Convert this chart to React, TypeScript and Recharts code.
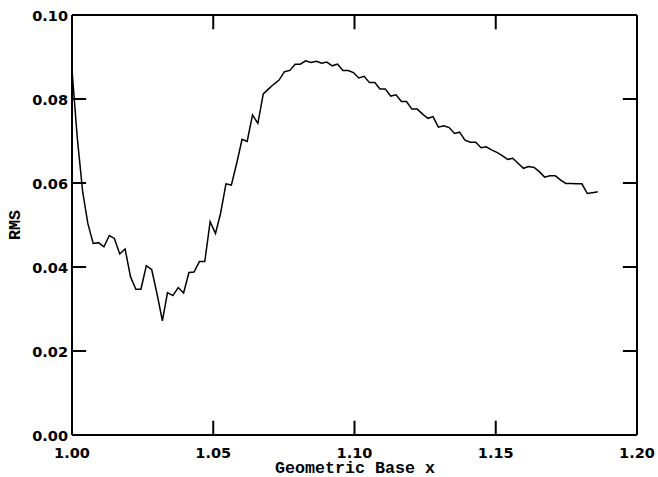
import { Line, LineChart, ReferenceLine, XAxis, YAxis } from "recharts";

// geometric base (x) sampled along the run
const baseX = [
  1.0, 1.0019, 1.0038, 1.0056, 1.0075, 1.0094, 1.0113, 1.0132, 1.015, 1.0169,
  1.0188, 1.0207, 1.0226, 1.0244, 1.0263, 1.0282, 1.0301, 1.032, 1.0338, 1.0357,
  1.0376, 1.0395, 1.0414, 1.0432, 1.0451, 1.047, 1.0489, 1.0508, 1.0526, 1.0545,
  1.0564, 1.0583, 1.0602, 1.062, 1.0639, 1.0658, 1.0677, 1.0696, 1.0714, 1.0733,
  1.0752, 1.0771, 1.079, 1.0808, 1.0827, 1.0846, 1.0865, 1.0884, 1.0902, 1.0921,
  1.094, 1.0959, 1.0978, 1.0996, 1.1015, 1.1034, 1.1053, 1.1072, 1.109, 1.1109,
  1.1128, 1.1147, 1.1166, 1.1184, 1.1203, 1.1222, 1.1241, 1.126, 1.1278, 1.1297,
  1.1316, 1.1335, 1.1354, 1.1372, 1.1391, 1.141, 1.1429, 1.1448, 1.1466, 1.1485,
  1.1504, 1.1523, 1.1542, 1.156, 1.1579, 1.1598, 1.1617, 1.1636, 1.1654, 1.1673,
  1.1692, 1.1711, 1.173, 1.1748, 1.1767, 1.1786, 1.1805, 1.1824, 1.1842, 1.1861,
];

const rms = [
  0.0869, 0.0705, 0.0578, 0.0504, 0.0456, 0.0458, 0.0448, 0.0475, 0.0468, 0.0431,
  0.0443, 0.0377, 0.0347, 0.0347, 0.0403, 0.0394, 0.0336, 0.0272, 0.0339, 0.0332,
  0.0351, 0.0338, 0.0387, 0.0388, 0.0413, 0.0413, 0.0508, 0.048, 0.0528, 0.0598,
  0.0595, 0.0647, 0.0704, 0.0699, 0.0762, 0.0742, 0.0812, 0.0824, 0.0835, 0.0845,
  0.0865, 0.0868, 0.0883, 0.0883, 0.0891, 0.0887, 0.089, 0.0885, 0.0888, 0.0879,
  0.0883, 0.0868, 0.0868, 0.0863, 0.085, 0.0854, 0.0839, 0.0839, 0.0824, 0.0824,
  0.0807, 0.081, 0.0794, 0.0794, 0.0776, 0.0776, 0.0764, 0.0754, 0.0758, 0.0733,
  0.0736, 0.0732, 0.0718, 0.0721, 0.0702, 0.0697, 0.0697, 0.0684, 0.0686, 0.0679,
  0.0673, 0.0665, 0.0656, 0.0659, 0.0647, 0.0635, 0.0639, 0.0637, 0.0627, 0.0614,
  0.0617, 0.0617, 0.0607, 0.0599, 0.0599, 0.0598, 0.0598, 0.0575, 0.0577, 0.0579,
];

const xTicks = [1.0, 1.05, 1.1, 1.15, 1.2];
const yTicks = [0.0, 0.02, 0.04, 0.06, 0.08, 0.1];

const data = baseX.map((x, i) => ({ x, rms: rms[i] }));

const X_MIN = 1.0;
const X_MAX = 1.2;
const Y_MIN = 0;
const Y_MAX = 0.1;
// inward tick length (~14px) expressed in data units of the other axis
const X_TICK_LEN = 0.0034; // in y units, for x ticks
const Y_TICK_LEN = 0.005; // in x units, for y ticks

const frame = { stroke: "#000", strokeWidth: 2 };
const tickFont = { fontFamily: "DejaVu Sans", fontWeight: 700, fontSize: 14.5 };
const titleFont = { fontFamily: "Liberation Mono", fontWeight: 700, fontSize: 16.7 };

function BottomLabel({ x, y, payload }: any) {
  return (
    <text x={x} y={y + 22.5} textAnchor="middle" fill="#000" {...tickFont}>
      {payload.value.toFixed(2)}
    </text>
  );
}

function LeftLabel({ x, y, payload }: any) {
  return (
    <text x={x - 4} y={y + 5.5} textAnchor="end" fill="#000" {...tickFont}>
      {payload.value.toFixed(2)}
    </text>
  );
}

export default function App() {
  return (
    <div style={{ position: "absolute", left: 0, top: 0, background: "#fff" }}>
      <LineChart
        width={658}
        height={477}
        data={data}
        margin={{ top: 14, right: 20, bottom: 0, left: 0 }}
      >
        <XAxis
          xAxisId="b"
          dataKey="x"
          type="number"
          domain={[X_MIN, X_MAX]}
          ticks={xTicks}
          interval={0}
          height={42}
          tickSize={0}
          tickMargin={0}
          tickLine={false}
          axisLine={frame}
          tick={BottomLabel}
          allowDataOverflow
        />
        <XAxis
          xAxisId="t"
          orientation="top"
          type="number"
          domain={[X_MIN, X_MAX]}
          ticks={xTicks}
          height={1}
          tickLine={false}
          axisLine={frame}
          tick={false}
          allowDataOverflow
        />
        <YAxis
          yAxisId="l"
          type="number"
          domain={[Y_MIN, Y_MAX]}
          ticks={yTicks}
          interval={0}
          width={72}
          tickSize={0}
          tickMargin={0}
          tickLine={false}
          axisLine={frame}
          tick={LeftLabel}
          allowDataOverflow
        />
        <YAxis
          yAxisId="r"
          orientation="right"
          type="number"
          domain={[Y_MIN, Y_MAX]}
          ticks={yTicks}
          width={1}
          tickLine={false}
          axisLine={frame}
          tick={false}
          allowDataOverflow
        />
        {xTicks.slice(1, -1).map((t) => (
          <ReferenceLine
            key={`xb${t}`}
            xAxisId="b"
            yAxisId="l"
            segment={[{ x: t, y: Y_MIN }, { x: t, y: Y_MIN + X_TICK_LEN }]}
            stroke="#000"
            strokeWidth={2}
          />
        ))}
        {xTicks.slice(1, -1).map((t) => (
          <ReferenceLine
            key={`xt${t}`}
            xAxisId="b"
            yAxisId="l"
            segment={[{ x: t, y: Y_MAX }, { x: t, y: Y_MAX - X_TICK_LEN }]}
            stroke="#000"
            strokeWidth={2}
          />
        ))}
        {yTicks.slice(1, -1).map((t) => (
          <ReferenceLine
            key={`yl${t}`}
            xAxisId="b"
            yAxisId="l"
            segment={[{ x: X_MIN, y: t }, { x: X_MIN + Y_TICK_LEN, y: t }]}
            stroke="#000"
            strokeWidth={2}
          />
        ))}
        {yTicks.slice(1, -1).map((t) => (
          <ReferenceLine
            key={`yr${t}`}
            xAxisId="b"
            yAxisId="l"
            segment={[{ x: X_MAX, y: t }, { x: X_MAX - Y_TICK_LEN, y: t }]}
            stroke="#000"
            strokeWidth={2}
          />
        ))}
        <Line
          xAxisId="b"
          yAxisId="l"
          type="linear"
          dataKey="rms"
          stroke="#000"
          strokeWidth={1.5}
          dot={false}
          isAnimationActive={false}
        />
        <text x={355} y={473} textAnchor="middle" fill="#000" {...titleFont}>
          Geometric Base x
        </text>
        <text
          x={20}
          y={225}
          textAnchor="middle"
          fill="#000"
          transform="rotate(-90 20 225)"
          {...titleFont}
        >
          RMS
        </text>
      </LineChart>
    </div>
  );
}
